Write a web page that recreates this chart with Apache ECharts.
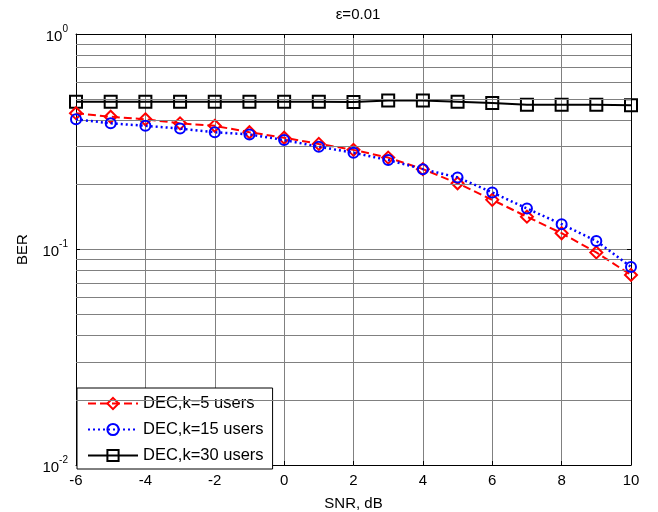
<!DOCTYPE html>
<html>
<head>
    <meta charset="UTF-8">
    <title>BER vs SNR</title>
    <script src="https://cdn.jsdelivr.net/npm/echarts@6/dist/echarts.min.js"></script>
    <style>
        html, body { margin: 0; padding: 0; background: #fff; }
        #chart { width: 658px; height: 512px; }
    </style>
</head>
<body>
<div id="chart"></div>
<script>
    // SNR (dB) on x, BER on log y
    const snr = [-6, -5, -4, -3, -2, -1, 0, 1, 2, 3, 4, 5, 6, 7, 8, 9, 10];
    const ber5 = [0.429, 0.413, 0.402, 0.385, 0.375, 0.350, 0.330, 0.309, 0.290, 0.267, 0.236, 0.203, 0.170, 0.142, 0.119, 0.0969, 0.0762];
    const ber15 = [0.402, 0.385, 0.375, 0.364, 0.350, 0.342, 0.322, 0.300, 0.281, 0.260, 0.236, 0.216, 0.184, 0.155, 0.131, 0.1095, 0.083];
    const ber30 = [0.485, 0.485, 0.485, 0.485, 0.485, 0.485, 0.485, 0.485, 0.484, 0.492, 0.492, 0.485, 0.478, 0.470, 0.470, 0.470, 0.467];
    const seriesNames = ['DEC,k=5 users', 'DEC,k=15 users', 'DEC,k=30 users'];
    // minor log grid lines (2..9 x decade)
    const minorGrid = [0.02, 0.03, 0.04, 0.05, 0.06, 0.07, 0.08, 0.09, 0.2, 0.3, 0.4, 0.5, 0.6, 0.7, 0.8, 0.9];

    const font = 'Liberation Sans, Arial, sans-serif';
    const pairs = arr => snr.map((x, i) => [x, arr[i]]);

    const chart = echarts.init(document.getElementById('chart'));

    const yLabel = v => '{b|10}{s|' + Math.round(Math.log10(v)) + '}';

    const option = {
        animation: false,
        textStyle: { fontFamily: font },
        title: {
            text: 'ε=0.01',
            left: 353, top: 2, textAlign: 'center',
            textStyle: { fontSize: 15, fontWeight: 'normal', color: '#000', fontFamily: font }
        },
        grid: { left: 76, right: 27, top: 34, bottom: 47, containLabel: false, outerBoundsMode: 'none' },
        legend: {
            data: seriesNames,
            orient: 'vertical',
            left: 77, top: 388,
            padding: [7, 9, 5, 10],
            itemWidth: 50, itemHeight: 14, itemGap: 9,
            backgroundColor: '#fff',
            borderColor: '#000', borderWidth: 1, borderRadius: 0,
            textStyle: { fontSize: 16.5, color: '#000', fontFamily: font }
        },
        xAxis: [{
            type: 'value', min: -6, max: 10, interval: 2,
            name: 'SNR, dB', nameLocation: 'middle', nameGap: 31,
            nameTextStyle: { fontSize: 15, color: '#000' },
            axisLine: { show: true, onZero: false, lineStyle: { color: '#000', width: 1 } },
            axisTick: { show: true, inside: true, length: 4, lineStyle: { color: '#000' } },
            axisLabel: { fontSize: 15, color: '#000', margin: 8 },
            splitLine: { show: true, lineStyle: { color: '#808080', width: 1 } }
        }, {
            type: 'value', min: -6, max: 10, interval: 2, position: 'top',
            axisLine: { show: true, onZero: false, lineStyle: { color: '#000', width: 1 } },
            axisTick: { show: true, inside: true, length: 4, lineStyle: { color: '#000' } },
            axisLabel: { show: false },
            splitLine: { show: false }
        }],
        yAxis: [{
            type: 'log', logBase: 10, min: 0.01, max: 1,
            name: 'BER', nameLocation: 'middle', nameGap: 46,
            nameTextStyle: { fontSize: 15, color: '#000' },
            axisLine: { show: true, onZero: false, lineStyle: { color: '#000', width: 1 } },
            axisTick: { show: true, inside: true, length: 4, lineStyle: { color: '#000' } },
            axisLabel: {
                color: '#000', margin: 8,
                formatter: yLabel,
                rich: {
                    b: { fontSize: 15, lineHeight: 20, verticalAlign: 'bottom', color: '#000', fontFamily: font },
                    s: { fontSize: 10, lineHeight: 12, verticalAlign: 'top', color: '#000', fontFamily: font }
                }
            },
            splitLine: { show: true, lineStyle: { color: '#808080', width: 1 } }
        }, {
            type: 'log', logBase: 10, min: 0.01, max: 1, position: 'right',
            axisLine: { show: true, onZero: false, lineStyle: { color: '#000', width: 1 } },
            axisTick: { show: true, inside: true, length: 4, lineStyle: { color: '#000' } },
            axisLabel: { show: false },
            splitLine: { show: false }
        }],
        series: [
            {
                name: 'minor-grid', type: 'line', data: [], silent: true, z: 1,
                markLine: {
                    silent: true, symbol: 'none', animation: false,
                    label: { show: false },
                    lineStyle: { color: '#808080', width: 1, type: 'solid' },
                    data: minorGrid.map(v => ({ yAxis: v }))
                }
            },
            {
                name: seriesNames[0], type: 'line', data: pairs(ber5), z: 4,
                symbol: 'diamond', symbolSize: 12,
                lineStyle: { color: '#ff0000', width: 2, type: [8, 4] },
                itemStyle: { color: 'rgba(255,255,255,0)', borderColor: '#ff0000', borderWidth: 2 }
            },
            {
                name: seriesNames[1], type: 'line', data: pairs(ber15), z: 5,
                symbol: 'circle', symbolSize: 10,
                lineStyle: { color: '#0000ff', width: 2.5, type: [2, 3] },
                itemStyle: { color: 'rgba(255,255,255,0)', borderColor: '#0000ff', borderWidth: 2 }
            },
            {
                name: seriesNames[2], type: 'line', data: pairs(ber30), z: 3,
                symbol: 'rect', symbolSize: 12,
                lineStyle: { color: '#000', width: 2 },
                itemStyle: { color: 'rgba(255,255,255,0)', borderColor: '#000', borderWidth: 2 }
            }
        ]
    };

    chart.setOption(option);
</script>
</body>
</html>
